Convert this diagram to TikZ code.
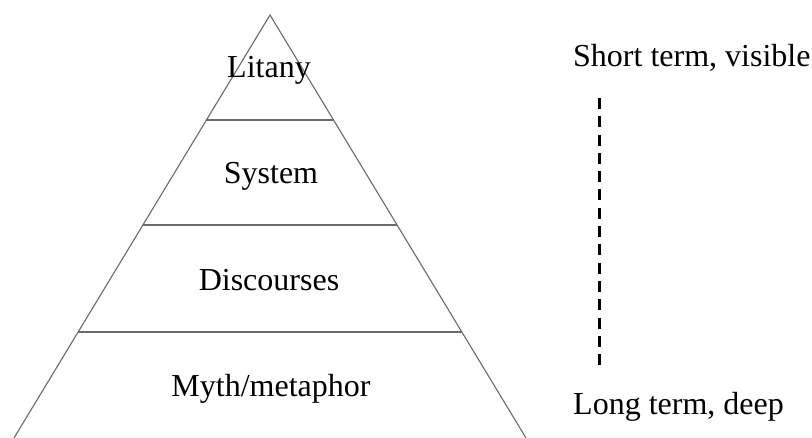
\documentclass[tikz,border=0pt]{standalone}
\usepackage{fontspec}
\setmainfont{Liberation Serif}
\usetikzlibrary{calc}
\tikzset{
  side/.style={draw=black!58, line width=1.1pt},
  level/.style={draw=black!58, line width=2pt},
  lbl/.style={font=\fontsize{32pt}{36pt}\selectfont, inner sep=0pt, anchor=base},
  sidelbl/.style={font=\fontsize{32pt}{36pt}\selectfont, inner sep=0pt, anchor=base west},
  depthline/.style={line width=3pt, dash pattern=on 11pt off 7.3pt}
}
\begin{document}
\begin{tikzpicture}[x=1pt,y=-1pt]
\useasboundingbox (0,0) rectangle (812,438);
\fill[white] (0,0) rectangle (812,438);
\coordinate (apex) at (270,15);
\coordinate (bl) at (14,438);
\coordinate (br) at (526,438);
% levels
\draw[level] ($(apex)!0.2482!(bl)$) -- ($(apex)!0.2482!(br)$);
\draw[level] ($(apex)!0.4965!(bl)$) -- ($(apex)!0.4965!(br)$);
\draw[level] ($(apex)!0.7494!(bl)$) -- ($(apex)!0.7494!(br)$);
\draw[side] (bl) -- (apex) -- (br);
% labels
\node[lbl] (litany) at (269,78) {Litany};
\node[lbl] (system) at (271,184) {System};
\node[lbl] (disc) at (269,291) {Discourses};
\node[lbl] (myth) at (271,397) {Myth/metaphor};
\node[sidelbl] (short) at (573,67) {Short term, visible};
\node[sidelbl] (long) at (573,415) {Long term, deep};
\coordinate (dtop) at (599,98);
\coordinate (dbot) at (599,365);
\draw[depthline] (dtop) -- (dbot);
\end{tikzpicture}
\end{document}
